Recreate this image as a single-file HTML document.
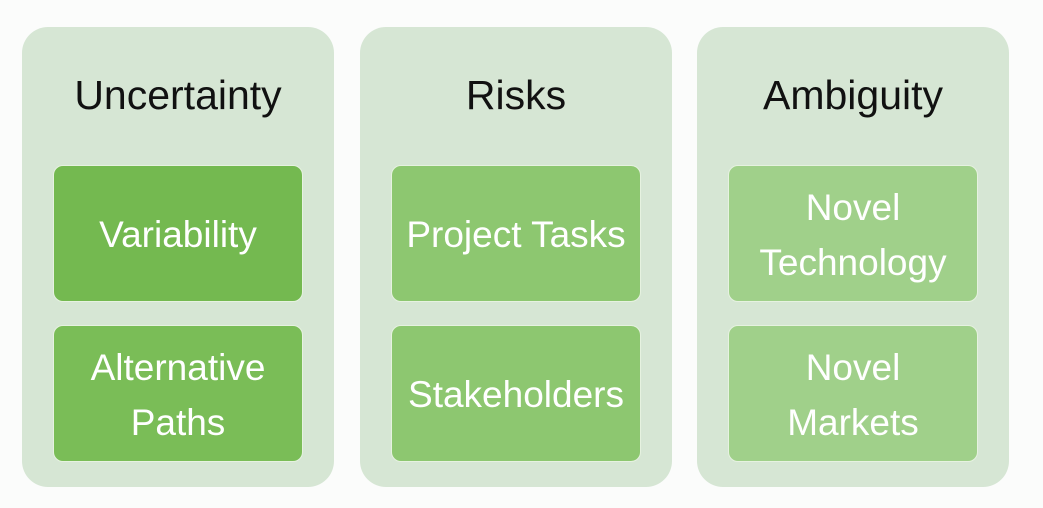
<!DOCTYPE html>
<html><head><style>
body{margin:0;width:1043px;height:508px;background:#fbfcfb;position:relative;overflow:hidden;font-family:"Liberation Sans",sans-serif}
.c{position:absolute;top:27px;width:312px;height:460px;background:#d6e6d4;border-radius:26px}
.t{position:absolute;top:45px;width:100%;text-align:center;font-size:41px;color:#111}
.b{position:absolute;left:31px;width:250px;height:137px;border-radius:10px;border:1px solid #e6f2e0;box-sizing:border-box;display:flex;align-items:center;justify-content:center;text-align:center;color:#fff;font-size:37px;line-height:55px;padding-top:2px}
</style></head><body>
<div class="c" style="left:22px"><div class="t">Uncertainty</div>
<div class="b" style="top:138px;background:#74b950">Variability</div>
<div class="b" style="top:298px;background:#7abd57">Alternative<br>Paths</div></div>
<div class="c" style="left:360px"><div class="t">Risks</div>
<div class="b" style="top:138px;background:#8dc770">Project Tasks</div>
<div class="b" style="top:298px;background:#8dc770">Stakeholders</div></div>
<div class="c" style="left:697px"><div class="t">Ambiguity</div>
<div class="b" style="top:138px;background:#a0d08a">Novel<br>Technology</div>
<div class="b" style="top:298px;background:#a0d08a">Novel<br>Markets</div></div>
</body></html>
